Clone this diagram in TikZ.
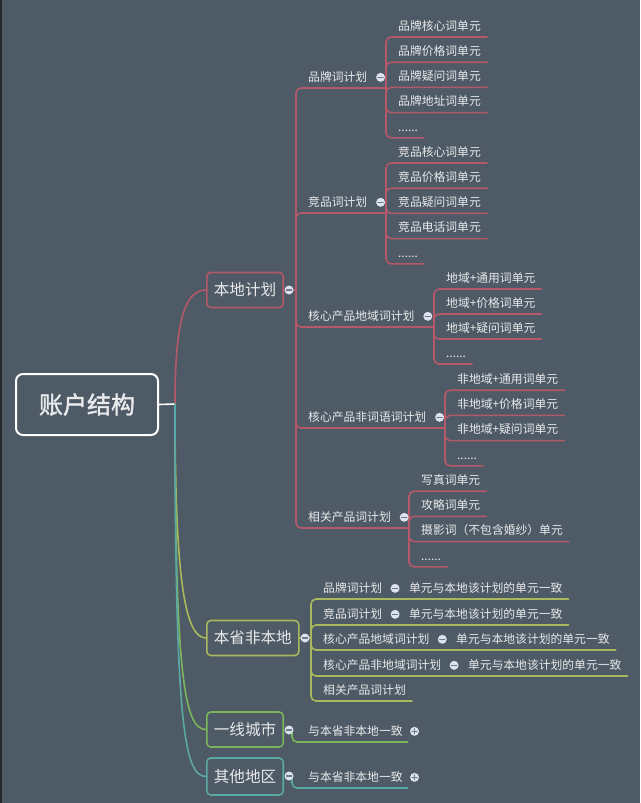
\documentclass[tikz,border=0pt]{standalone}
\usepackage{fontspec}
\usetikzlibrary{positioning}
\newfontfamily\cjk{Noto Sans CJK SC}
\newfontfamily\cjkbf[FakeBold=1.6]{Noto Sans CJK SC}
\newcommand\etcdots{......}
\definecolor{bg}{HTML}{4E5A65}
\definecolor{txt}{HTML}{E8EAEC}
\definecolor{redc}{HTML}{B4586A}
\definecolor{olivec}{HTML}{A9B85C}
\definecolor{greenc}{HTML}{7CB65C}
\definecolor{tealc}{HTML}{5BA9A6}
\definecolor{knob}{HTML}{DCE3EF}
\definecolor{knobmark}{HTML}{6E7888}
\tikzset{
  leaf/.style={font=\cjk\fontsize{11.8pt}{14pt}\selectfont,text=txt,inner xsep=0pt,inner ysep=4.5pt,text depth=2pt,anchor=south west},
  topic/.style={draw,rounded corners=4pt,line width=1.6pt,font=\cjk\fontsize{15.6pt}{18pt}\selectfont,text=txt,inner xsep=7pt,minimum height=35pt,anchor=west},
  rootbox/.style={draw=white,rounded corners=7pt,line width=2pt,minimum width=142pt,minimum height=61pt,font=\cjkbf\fontsize{24pt}{28pt}\selectfont,text=txt},
  link/.style={line width=1.6pt,rounded corners=5pt},
  knobminus/.style={circle,fill=knob,inner sep=0pt,minimum size=9pt,path picture={\draw[knobmark,line width=1.1pt] ([xshift=-2.6pt]path picture bounding box.center)--([xshift=2.6pt]path picture bounding box.center);}},
  knobplus/.style={circle,fill=knob,inner sep=0pt,minimum size=9pt,path picture={\draw[knobmark,line width=1.1pt] ([xshift=-2.6pt]path picture bounding box.center)--([xshift=2.6pt]path picture bounding box.center) ([yshift=-2.6pt]path picture bounding box.center)--([yshift=2.6pt]path picture bounding box.center);}}
}
\begin{document}
\begin{tikzpicture}[x=1pt,y=-1pt,line cap=round,line join=round]
  \useasboundingbox (0,0) rectangle (640,803);
  \fill[bg] (0,0) rectangle (640,803);
  \fill[black!55!bg] (0,0) rectangle (2,803);
  % root
  \node[rootbox] (root) at (87,404.5) {账户结构};
  \coordinate (trunk) at (175,404);
  \draw[white,line width=1.6pt] (root.east) -- (trunk);
  % local plans
  \node[topic,draw=redc] (local) at (206,290) {本地计划};
  \coordinate (local-j) at (296,290);
  \draw[redc,line width=1.6pt] (trunk) .. controls +(0,-80) and +(-22,0) .. (local.west);
  \draw[redc,link] (local.east) -- (local-j);
  \foreach \lbl/\y/\nm/\x in {品牌词计划/88/pa/386,竞品词计划/213/pb/386,核心产品地域词计划/327/pc/434,核心产品非词语词计划/428/pd/445,相关产品词计划/528/pe/409}{
    \node[leaf] (\nm) at (308,\y) {\lbl};
    \coordinate (\nm-j) at (\x,\y);
    \draw[redc,link] (local-j) |- (\nm-j);
  }
  \foreach \lbl [count=\i] in {品牌核心词单元,品牌价格词单元,品牌疑问词单元,品牌地址词单元,\etcdots}{
    \node[leaf] (pa\i) at (398,{11.8+25.2*\i}) {\lbl};
    \draw[redc,link] (pa-j) |- ([xshift=6pt]pa\i.south east);
  }
  \foreach \lbl [count=\i] in {竞品核心词单元,竞品价格词单元,竞品疑问词单元,竞品电话词单元,\etcdots}{
    \node[leaf] (pb\i) at (398,{137.8+25.2*\i}) {\lbl};
    \draw[redc,link] (pb-j) |- ([xshift=6pt]pb\i.south east);
  }
  \foreach \lbl [count=\i] in {地域+通用词单元,地域+价格词单元,地域+疑问词单元,\etcdots}{
    \node[leaf] (pc\i) at (446,{264+25*\i}) {\lbl};
    \draw[redc,link] (pc-j) |- ([xshift=6pt]pc\i.south east);
  }
  \foreach \lbl [count=\i] in {非地域+通用词单元,非地域+价格词单元,非地域+疑问词单元,\etcdots}{
    \node[leaf] (pd\i) at (457,{365+25.2*\i}) {\lbl};
    \draw[redc,link] (pd-j) |- ([xshift=6pt]pd\i.south east);
  }
  \foreach \lbl [count=\i] in {写真词单元,攻略词单元,摄影词（不包含婚纱）单元,\etcdots}{
    \node[leaf] (pe\i) at (421,{466+25.2*\i}) {\lbl};
    \draw[redc,link] (pe-j) |- ([xshift=6pt]pe\i.south east);
  }
  \node[knobminus] (local-k) at (289,290) {};
  \foreach \nm in {pa,pb,pc,pd,pe} \node[knobminus,right=8.5pt of \nm] (\nm-k) {};
  % province
  \node[topic,draw=olivec] (prov) at (206,638) {本省非本地};
  \coordinate (prov-j) at (311,638);
  \draw[olivec,line width=1.6pt] (trunk) .. controls +(0,170) and +(-22,0) .. (prov.west);
  \draw[olivec,link] (prov.east) -- (prov-j);
  \foreach \lbl/\y/\nm in {品牌词计划/599/qa,竞品词计划/625/qb,核心产品地域词计划/650/qc,核心产品非地域词计划/676/qd,相关产品词计划/701/qe}
    \node[leaf] (\nm) at (323,\y) {\lbl};
  \foreach \nm in {qa,qb,qc,qd}{
    \node[knobminus,right=8pt of \nm] (\nm-k) {};
    \node[leaf,right=9pt of \nm-k] (\nm-u) {单元与本地该计划的单元一致};
    \draw[olivec,link] (prov-j) |- ([xshift=6pt]\nm-u.south east);
  }
  \draw[olivec,link] (prov-j) |- ([xshift=6pt]qe.south east);
  \node[knobminus] (prov-k) at (305,638) {};
  % first tier cities
  \node[topic,draw=greenc] (tier) at (206,729.5) {一线城市};
  \draw[greenc,line width=1.6pt] (trunk) .. controls +(0,270) and +(-22,0) .. (tier.west);
  \coordinate (tier-j) at (292,730);
  \node[leaf] (tier-u) at (308,742) {与本省非本地一致};
  \draw[greenc,link] (tier-j) |- ([xshift=5pt]tier-u.south east);
  \node[knobminus] (tier-k) at (289,730) {};
  \node[knobplus,right=7pt of tier-u] (tier-p) {};
  % other regions
  \node[topic,draw=tealc,minimum height=37pt] (other) at (206,776.5) {其他地区};
  \draw[tealc,line width=1.6pt] (trunk) .. controls +(0,320) and +(-22,0) .. (other.west);
  \coordinate (other-j) at (292,776);
  \node[leaf] (other-u) at (308,788) {与本省非本地一致};
  \draw[tealc,link] (other-j) |- ([xshift=5pt]other-u.south east);
  \node[knobminus] (other-k) at (289,776) {};
  \node[knobplus,right=7pt of other-u] (other-p) {};
\end{tikzpicture}
\end{document}
